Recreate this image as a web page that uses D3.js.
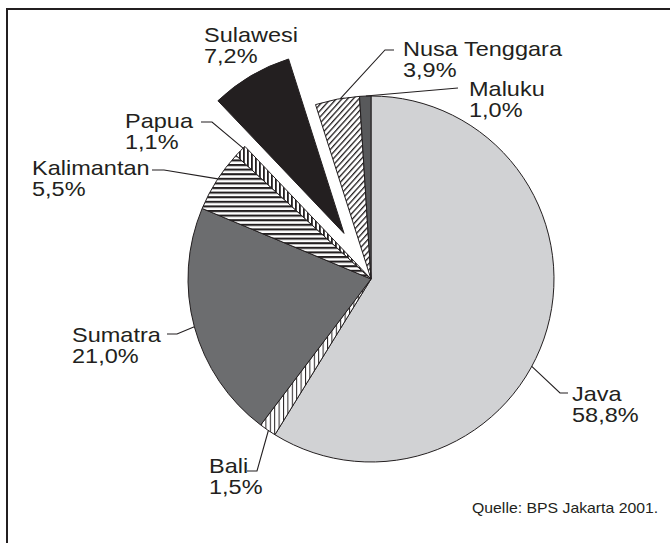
<!DOCTYPE html>
<html>
<head>
<meta charset="utf-8">
<script src="https://cdn.jsdelivr.net/npm/d3@7"></script>
<style>
  body { margin: 0; background: #fff; }
  svg { display: block; }
  text { font-family: "Liberation Sans", Arial, sans-serif; fill: #231f20; }
</style>
</head>
<body>
<div id="chart"></div>
<script>
// share of population by region (in %), clockwise from 12 o'clock
const regions = ["Java", "Bali", "Sumatra", "Kalimantan", "Papua", "Sulawesi", "Nusa Tenggara", "Maluku"];
const shares = [58.8, 1.5, 21.0, 5.5, 1.1, 7.2, 3.9, 1.0];
const fills = ["#d1d2d4", "url(#vthin)", "#6c6d6f", "url(#horiz)", "url(#vert)", "#231f20", "url(#diag)", "#58595b"];
const exploded = ["Sulawesi"];
const source = "Quelle: BPS Jakarta 2001.";

const width = 670, height = 543;
const cx = 371, cy = 279, radius = 183, explodeBy = 53;

// label layout: anchor of the text (left, first baseline), where along the
// slice the leader starts (0..1) and the leader elbow points
const labelPos = {
  "Java":          { x: 572, y: 401, at: 0.56, elbow: [[560, 393], [568, 393]] },
  "Bali":          { x: 209, y: 473, at: 0.45, elbow: [[257, 471], [247, 471]] },
  "Sumatra":       { x: 72,  y: 342, at: 0.5,  elbow: [[177, 334], [167, 334]] },
  "Kalimantan":    { x: 32,  y: 175, at: 0.53, elbow: [[164, 170], [152, 170]] },
  "Papua":         { x: 125, y: 128, at: 0.8,  elbow: [[212, 122], [201, 122]] },
  "Sulawesi":      { x: 204, y: 42,  at: 0.5,  elbow: null },
  "Nusa Tenggara": { x: 403, y: 56,  at: 0.57, elbow: [[385, 50], [394, 50]] },
  "Maluku":        { x: 469, y: 96,  at: 0.55, elbow: [[458, 88]] }
};

const data = regions.map((r, i) => ({ region: r, share: shares[i], fill: fills[i] }));
const fmt = d3.formatLocale({ decimal: ",", thousands: ".", grouping: [3], currency: ["", "€"] }).format(".1f");

const svg = d3.select("#chart")
  .append("svg")
  .attr("width", width)
  .attr("height", height);

// hatch patterns
const defs = svg.append("defs");

function pattern(id, w, h, draw, transform) {
  const p = defs.append("pattern")
    .attr("id", id)
    .attr("patternUnits", "userSpaceOnUse")
    .attr("width", w)
    .attr("height", h);
  if (transform) p.attr("patternTransform", transform);
  p.append("rect").attr("width", w).attr("height", h).attr("fill", "#fff");
  draw(p);
}
pattern("diag", 4.2, 10, p => p.append("rect").attr("width", 1.3).attr("height", 10).attr("fill", "#231f20"), "rotate(42)");
pattern("horiz", 10, 4.6, p => p.append("rect").attr("width", 10).attr("height", 2.1).attr("fill", "#231f20"));
pattern("vert", 4, 10, p => p.append("rect").attr("width", 1.8).attr("height", 10).attr("fill", "#231f20"));
pattern("vthin", 4.4, 10, p => p.append("rect").attr("width", 1).attr("height", 10).attr("fill", "#231f20"));

// frame (open at the bottom)
svg.append("path")
  .attr("d", `M7,${height}V9H${width}`)
  .attr("fill", "none")
  .attr("stroke", "#231f20")
  .attr("stroke-width", 2);

const pie = d3.pie().sort(null).value(d => d.share);
const arcs = pie(data);
const arc = d3.arc().innerRadius(0).outerRadius(radius);

function offset(d) {
  if (!exploded.includes(d.data.region)) return [0, 0];
  const a = (d.startAngle + d.endAngle) / 2;
  return [Math.sin(a) * explodeBy, -Math.cos(a) * explodeBy];
}

const g = svg.append("g").attr("transform", `translate(${cx},${cy})`);

g.selectAll("path.slice")
  .data(arcs)
  .join("path")
  .attr("class", "slice")
  .attr("transform", d => `translate(${offset(d)})`)
  .attr("d", arc)
  .attr("fill", d => d.data.fill)
  .attr("stroke", "#231f20")
  .attr("stroke-width", 1)
  .attr("stroke-linejoin", "round");

// leader lines, from the slice edge to the label
const leaders = arcs.filter(d => labelPos[d.data.region].elbow);
svg.append("g")
  .selectAll("polyline")
  .data(leaders)
  .join("polyline")
  .attr("points", d => {
    const lp = labelPos[d.data.region];
    const a = d.startAngle + lp.at * (d.endAngle - d.startAngle);
    const o = offset(d);
    const p0 = [cx + o[0] + Math.sin(a) * radius, cy + o[1] - Math.cos(a) * radius];
    return [p0].concat(lp.elbow).map(p => p.join(",")).join(" ");
  })
  .attr("fill", "none")
  .attr("stroke", "#231f20")
  .attr("stroke-width", 1.1);

// labels (the original type is slightly widened)
const labels = svg.append("g")
  .selectAll("text")
  .data(arcs)
  .join("text")
  .attr("transform", d => `translate(${labelPos[d.data.region].x},${labelPos[d.data.region].y}) scale(1.12,1)`)
  .attr("font-size", 21);

labels.append("tspan").attr("x", 0).text(d => d.data.region);
labels.append("tspan").attr("x", 0).attr("dy", 21.5).text(d => fmt(d.data.share) + "%");

svg.append("text")
  .attr("transform", "translate(472,513) scale(1.13,1)")
  .attr("font-size", 14)
  .text(source);
</script>
</body>
</html>
